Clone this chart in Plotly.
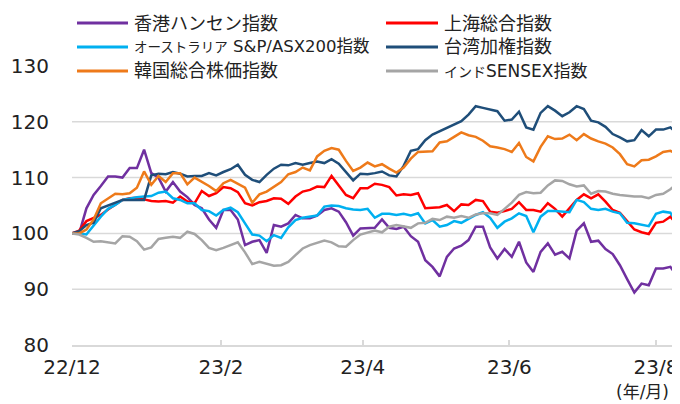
import plotly.graph_objects as go
import pandas as pd

# Dates (every 3 days from 2022-12-01 to 2023-08-10)
dates = pd.date_range("2022-12-01", periods=85, freq="3D")

hangseng = [100, 100, 104.5, 106.9, 108.5, 110.2, 110.2, 110, 111.7, 111.7,
            115, 110.8, 110, 107.5, 109.2, 107.5, 106.5, 105.1, 104.5, 102.5,
            101, 104.2, 104.2, 102.5, 97.9, 98.5, 98.8, 96.5, 101.5, 101.2,
            101.8, 103.3, 102.7, 102.7, 103.2, 104.2, 104.5, 103.9, 102, 99.6,
            100.9, 100.9, 101, 102.5, 101, 100.8, 101.2, 99.5, 98.5, 95.2,
            94, 92.3, 95.8, 97.3, 97.8, 98.8, 101.2, 101.2, 97.5, 95.5,
            97.2, 95.8, 98.5, 94.8, 93.1, 96.7, 98.2, 96.2, 96.7, 95.5,
            100.5, 101.8, 98.5, 98.7, 97.2, 96.3, 94.3, 91.8, 89.4, 91,
            90.7, 93.7, 93.7, 94, 92.2]
shanghai = [100, 100.5, 102.2, 102.8, 103.3, 104.3, 105.1, 106, 106.3, 106.4,
            106.1, 105.8, 105.7, 105.8, 105.5, 106.6, 105.7, 105.4, 107.6, 106.7,
            107.2, 108.3, 108.1, 107.4, 105.4, 105, 105.6, 105.8, 106.3, 106.2,
            105.3, 106.6, 107.5, 107.8, 108.4, 108.3, 110.3, 108.5, 106.9, 106.3,
            108.1, 108.1, 108.9, 108.7, 108.3, 106.8, 107, 106.9, 107.2, 104.5,
            104.6, 104.7, 105.1, 104, 105.2, 105.1, 106, 105.8, 103.9, 103.7,
            104, 104.4, 105.6, 104.2, 104.2, 103.9, 105.4, 104.4, 103, 104.5,
            106, 107, 106.3, 107, 105.7, 104.2, 103.7, 102.2, 100.7, 100.2,
            99.9, 101.9, 102.1, 103, 101.5]
asx200 = [100, 100, 99.8, 101.5, 103, 104.4, 105.1, 106, 106.3, 106.5,
          106.6, 106.7, 107.3, 107.5, 106.3, 106, 105.4, 105.4, 104.2, 104,
          103.2, 104.2, 104.6, 103.8, 101.8, 99.8, 99.6, 98.6, 99.7, 99.2,
          101.1, 102.4, 102.8, 103, 103.2, 104.8, 105, 104.9, 104.5, 104.3,
          104.2, 104.4, 102.8, 103.5, 103.5, 103.3, 103.5, 103.2, 103.6, 101.8,
          102.4, 101.2, 101.5, 102.2, 101.9, 102.6, 103.3, 103.8, 102.8, 101,
          102.1, 102.7, 103.6, 103.1, 100.2, 103, 104, 104, 103.9, 103.8,
          106, 105.6, 104.4, 104.2, 104.4, 103.9, 103.6, 101.9, 101.8, 101.6,
          101.3, 103.5, 103.9, 103.7, 101.8]
taiex = [100, 100.4, 101.5, 101.9, 104.5, 105, 105.4, 106, 106, 106,
         106, 110.4, 110.7, 110.6, 111, 110.7, 110.2, 110.3, 110.3, 110.8,
         110.4, 111, 111.5, 112.3, 110.5, 109.6, 109.2, 110.5, 111.6, 112.3,
         112.2, 112.6, 112.3, 112.6, 112.9, 112.6, 113.3, 112.5, 111, 109.5,
         110.7, 110.6, 110.8, 111.1, 110.4, 110.2, 112.1, 114.8, 115.1, 116.7,
         117.7, 118.3, 118.9, 119.5, 120.1, 121.3, 122.8, 122.5, 122.2, 121.9,
         120.2, 120.4, 121.8, 119, 118.6, 121.6, 122.8, 122, 121, 121.7,
         122.8, 122.3, 120.2, 119.9, 119.1, 117.8, 117.2, 116.5, 116.7, 118.5,
         117.4, 118.6, 118.6, 119, 117.8]
kospi = [100, 100, 100.7, 102.5, 105.4, 106.2, 107.1, 107, 107.2, 108.2,
         111.1, 108.7, 110.3, 109.2, 110.8, 110.8, 108.8, 110, 109.3, 108.5,
         107.6, 109, 109.6, 108.9, 108.2, 105.5, 107, 107.5, 108.3, 109.2,
         110.6, 111, 111.8, 111.3, 113.8, 114.8, 115.3, 115, 113, 111.2,
         111.8, 112.7, 112, 112.4, 111.6, 110.9, 111.8, 113.4, 114.6, 114.7,
         114.7, 116.3, 116.5, 117.3, 118.1, 117.6, 117.3, 116.6, 115.6, 115.4,
         115.1, 114.6, 116.2, 113.7, 112.9, 115.5, 117.4, 116.9, 117, 117.7,
         116.7, 117.8, 117, 116.5, 116.1, 115.4, 114.2, 112.4, 112, 113.1,
         113.2, 113.8, 114.6, 114.8, 114.1]
sensex = [100, 99.8, 99.2, 98.5, 98.6, 98.4, 98.2, 99.5, 99.4, 98.6,
          97.1, 97.5, 99, 99.2, 99.4, 99.2, 100.3, 99.9, 98.8, 97.4,
          97, 97.4, 97.9, 98.4, 96.6, 94.5, 94.9, 94.6, 94.2, 94.3,
          94.9, 96.1, 97.3, 97.9, 98.3, 98.7, 98.4, 97.7, 97.6, 98.8,
          99.8, 100.2, 100.5, 100.2, 101.2, 101.5, 101.2, 101, 101.8, 101.9,
          102.6, 102.4, 103, 102.8, 103.1, 102.8, 103.4, 103.6, 103.6, 103.3,
          104.4, 105.5, 106.9, 107.4, 107.2, 107.3, 108.6, 109.5, 109.4, 108.8,
          108.4, 108.6, 107.1, 107.6, 107.5, 107.1, 106.9, 106.7, 106.6, 106.6,
          106.3, 106.9, 107.1, 107.9, 109]

series = [hangseng, shanghai, asx200, taiex, kospi, sensex]
names = ["香港ハンセン指数", "上海総合指数", "オーストラリア S&P/ASX200指数",
         "台湾加権指数", "韓国総合株価指数", "インドSENSEX指数"]
legend_labels = [
    "香港ハンセン指数",
    "上海総合指数",
    "<span style='font-size:13.5px'>オーストラリア</span> S&amp;P/ASX200指数",
    "台湾加権指数",
    "韓国総合株価指数",
    "<span style='font-size:14px'>インド</span>SENSEX指数",
]
legend_sizes = [18, 18, 16.5, 18, 18, 17]
colors = ["#7030A0", "#FF0000", "#00B0F0", "#1F4E79", "#EE7A1A", "#A5A5A5"]

tick_dates = ["2022-12-01", "2023-02-01", "2023-04-01", "2023-06-01", "2023-08-01"]
tick_text = ["22/12", "23/2", "23/4", "23/6", "23/8"]
y_ticks = [80, 90, 100, 110, 120, 130]
grid_vals = [90, 100, 110, 120]

FONT = "DejaVu Sans, Noto Sans CJK JP"
OFF = 8  # page body margin
W, H = 672, 396
ML, MR, MT, MB = 64, 0, 58, 59
PW, PH = W - ML - MR, H - MT - MB
PL, PB = ML + OFF, MT + OFF + PH  # plot left / bottom in window pixels


def px(x):
    return (x - PL) / PW


def py(y):
    return (PB - y) / PH


fig = go.Figure()
for vals, nm, col in zip(series, names, colors):
    fig.add_trace(go.Scatter(x=dates, y=vals, mode="lines", name=nm,
                             line=dict(color=col, width=2.5), showlegend=False))

for g in grid_vals:
    fig.add_shape(type="line", xref="paper", x0=0, x1=1, yref="y", y0=g, y1=g,
                  line=dict(color="#D9D9D9", width=1.5), layer="below")

# legend (two columns, three rows)
col_line_x = [(77, 128), (386, 438)]
col_text_x = [132, 442]
row_y = [23, 47, 71]
for k, (lab, col, fs) in enumerate(zip(legend_labels, colors, legend_sizes)):
    c, r = k % 2, k // 2
    x0, x1 = col_line_x[c]
    fig.add_shape(type="line", xref="paper", yref="paper",
                  x0=px(x0), x1=px(x1), y0=py(row_y[r]), y1=py(row_y[r]),
                  line=dict(color=col, width=3))
    fig.add_annotation(xref="paper", yref="paper", x=px(col_text_x[c]), y=py(row_y[r]),
                       text=lab, showarrow=False, xanchor="left", yanchor="middle",
                       font=dict(size=fs, color="#222222", family=FONT))

fig.add_annotation(xref="paper", yref="paper", x=px(671), y=py(392), text="(年/月)",
                   showarrow=False, xanchor="right", yanchor="middle",
                   font=dict(size=17, color="#222222", family=FONT))

fig.update_layout(
    width=W, height=H,
    margin=dict(l=ML, r=MR, t=MT, b=MB, autoexpand=False),
    paper_bgcolor="white", plot_bgcolor="white",
    font=dict(family=FONT, color="#222222", size=20),
    xaxis=dict(type="date", range=["2022-12-01", "2023-08-11"],
               tickvals=tick_dates, ticktext=tick_text, automargin=False,
               showgrid=False, showline=True, linecolor="#D9D9D9", linewidth=1.5,
               ticks="inside", ticklen=5, tickcolor="#D9D9D9", tickwidth=1.5,
               tickfont=dict(size=20), ticklabelstandoff=3, zeroline=False),
    yaxis=dict(range=[80, 130], tickvals=y_ticks, showgrid=False, zeroline=False,
               automargin=False,
               showline=False, ticks="", tickfont=dict(size=20), ticklabelstandoff=22),
)

fig.write_html("out.html")
